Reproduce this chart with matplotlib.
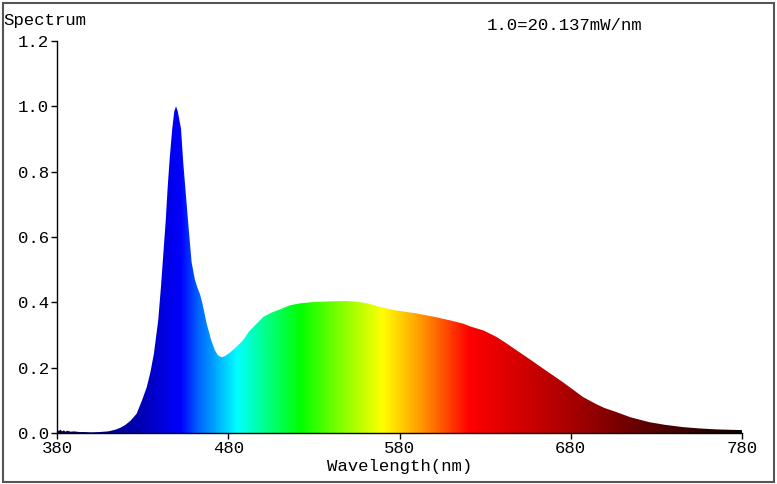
import numpy as np
import matplotlib
matplotlib.use('Agg')
import matplotlib.pyplot as plt
from matplotlib.colors import LinearSegmentedColormap
from matplotlib.patches import Polygon, Rectangle

# spectrum (relative, 1.0 = 20.137 mW/nm)
wavelength = [380, 381, 382, 383, 384, 385, 386, 388, 390, 393, 396, 400, 405, 410,
              414, 417, 420, 423, 426.5, 429.5, 432.4, 434.5, 436.6, 439.1, 440.7,
              442.1, 443.5, 444.6, 445.8, 447.3, 448.5, 449.5, 450.5, 452.4, 453.7,
              455.3, 456.9, 458.6, 460.5, 462, 463.5, 465, 467.4, 470, 472.2, 474,
              476, 478, 481, 484, 486.8, 488.8, 492, 496.6, 500.4, 505, 510, 516,
              522, 530, 540, 549, 555, 562, 568.6, 575, 582, 590, 600, 609.4, 617,
              622, 629, 636.7, 642, 648.4, 656, 662, 667.8, 675, 681, 687.2, 695,
              700, 706.7, 715, 726, 735, 745.6, 755, 765, 772, 778.7, 780]
intensity = [0.012, 0.006, 0.010, 0.005, 0.008, 0.004, 0.007, 0.004, 0.005, 0.003, 0.003,
             0.002, 0.003, 0.005, 0.010, 0.016, 0.025, 0.038, 0.059, 0.098, 0.140,
             0.185, 0.243, 0.345, 0.447, 0.549, 0.651, 0.750, 0.840, 0.932, 0.985,
             1.00, 0.985, 0.932, 0.829, 0.727, 0.625, 0.523, 0.470, 0.445, 0.425,
             0.395, 0.335, 0.285, 0.253, 0.238, 0.232, 0.235, 0.246, 0.260, 0.274,
             0.285, 0.31, 0.335, 0.355, 0.368, 0.378, 0.391, 0.397, 0.401, 0.403,
             0.404, 0.402, 0.396, 0.386, 0.378, 0.372, 0.366, 0.356, 0.345, 0.335,
             0.325, 0.314, 0.294, 0.276, 0.253, 0.226, 0.204, 0.183, 0.157, 0.134,
             0.110, 0.088, 0.076, 0.064, 0.048, 0.033, 0.025, 0.018, 0.014, 0.011,
             0.010, 0.009, 0.009]

# colour of light along the wavelength axis
stop_nm = [380, 405, 430, 452, 462, 485, 505, 522, 545, 570, 590, 621, 680, 730, 780]
stop_rgb = [(0.05, 0.0, 0.25), (0.0, 0.0, 0.52), (0.0, 0.0, 0.72), (0.0, 0.0, 1.0),
            (0.0, 0.38, 1.0), (0.0, 1.0, 1.0), (0.0, 1.0, 0.45), (0.0, 1.0, 0.0),
            (0.5, 1.0, 0.0), (1.0, 1.0, 0.0), (1.0, 0.65, 0.0), (1.0, 0.0, 0.0),
            (0.66, 0.0, 0.0), (0.33, 0.0, 0.0), (0.06, 0.0, 0.0)]

x_ticks = [380, 480, 580, 680, 780]
y_ticks = [0.0, 0.2, 0.4, 0.6, 0.8, 1.0, 1.2]

plt.rcParams['font.family'] = ['Liberation Mono', 'DejaVu Sans Mono']
fs = 12.5

fig = plt.figure(figsize=(7.77, 4.84), dpi=100)
ax = fig.add_axes([57 / 777, 51 / 484, 685 / 777, 392 / 484])

pos = [(w - stop_nm[0]) / (stop_nm[-1] - stop_nm[0]) for w in stop_nm]
cmap = LinearSegmentedColormap.from_list('spec', list(zip(pos, stop_rgb)), N=512)
grad = np.linspace(0, 1, 800)[None, :]
im = ax.imshow(grad, cmap=cmap, extent=[380, 780, 0, 1.2], aspect='auto',
               origin='lower', interpolation='bilinear')

verts = [(380, 0)] + list(zip(wavelength, intensity)) + [(780, 0)]
shape = Polygon(verts, closed=True, facecolor='none', edgecolor='none')
ax.add_patch(shape)
im.set_clip_path(shape)

ax.set_xlim(380, 780)
ax.set_ylim(0, 1.2)
ax.set_xticks(x_ticks)
ax.set_xticklabels([str(t) for t in x_ticks], fontsize=fs)
ax.set_yticks(y_ticks)
ax.set_yticklabels([f'{t:.1f}' for t in y_ticks], fontsize=fs)
ax.tick_params(direction='out', length=4, width=1, color='black', pad=2)
for s in ['top', 'right']:
    ax.spines[s].set_visible(False)
for s in ['left', 'bottom']:
    ax.spines[s].set_linewidth(1)
ax.set_xlabel('Wavelength(nm)', fontsize=fs, labelpad=2)

fig.text(3 / 777, 1 - 21 / 484, 'Spectrum', fontsize=fs, va='center', ha='left')
fig.text(487 / 777, 1 - 26 / 484, '1.0=20.137mW/nm', fontsize=fs, va='center', ha='left')

fig.patches.append(Rectangle((2.5 / 777, 2.5 / 484), 771 / 777, 479 / 484,
                             transform=fig.transFigure, fill=False,
                             edgecolor='#555555', linewidth=1.5))

fig.savefig('out.png', dpi=100)
